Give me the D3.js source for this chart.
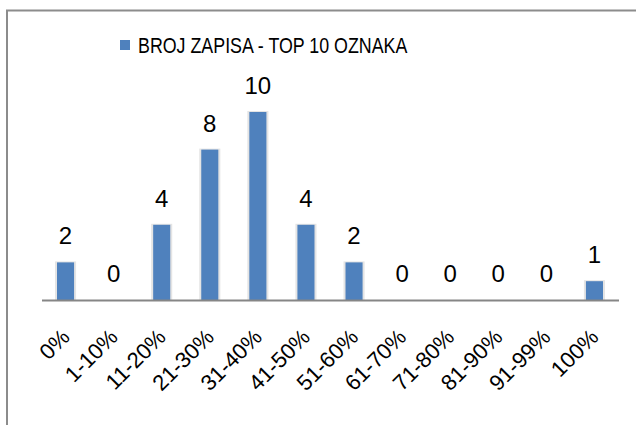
<!DOCTYPE html>
<html>
<head>
<meta charset="utf-8">
<script src="https://cdn.jsdelivr.net/npm/d3@7"></script>
<style>
  body { margin: 0; background: #fff; }
  svg { display: block; font-family: "Liberation Sans", Arial, sans-serif; }
</style>
</head>
<body>
<div id="chart"></div>
<script>
const categories = ['0%', '1-10%', '11-20%', '21-30%', '31-40%', '41-50%', '51-60%',
                    '61-70%', '71-80%', '81-90%', '91-99%', '100%'];
const values = [2, 0, 4, 8, 10, 4, 2, 0, 0, 0, 0, 1];
const seriesName = 'BROJ ZAPISA - TOP 10 OZNAKA';

const w = 636, h = 425;
const barColor = '#4f81bd';

const svg = d3.select('#chart')
  .append('svg')
  .attr('width', w)
  .attr('height', h);

// chart area border: only the top and left edges are in frame
svg.append('path')
  .attr('d', `M7,${h} V10.5 H${w}`)
  .attr('fill', 'none')
  .attr('stroke', '#8c8c8c')
  .attr('stroke-width', 2);

const x = d3.scaleBand()
  .domain(categories)
  .range([41.5, 618.5])
  .paddingInner(0.645)
  .paddingOuter(0.3225);

const y = d3.scaleLinear()
  .domain([0, 10])
  .range([300, 112]);

// bars with a soft halo like the source
const bars = svg.selectAll('g.bar')
  .data(values)
  .enter()
  .append('g')
  .attr('class', 'bar');

bars.append('rect')
  .attr('x', (d, i) => x(categories[i]) - 2)
  .attr('y', d => y(d) - 1)
  .attr('width', x.bandwidth() + 4)
  .attr('height', d => d > 0 ? y(0) - y(d) + 1 : 0)
  .attr('fill', '#e4e4e4');

bars.append('rect')
  .attr('x', (d, i) => x(categories[i]))
  .attr('y', d => y(d))
  .attr('width', x.bandwidth())
  .attr('height', d => y(0) - y(d))
  .attr('fill', barColor);

bars.append('text')
  .attr('x', (d, i) => x(categories[i]) + x.bandwidth() / 2)
  .attr('y', d => y(d) - 18)
  .attr('text-anchor', 'middle')
  .attr('font-size', 24)
  .attr('fill', '#000')
  .text(d => d);

// x axis
const axis = svg.append('g')
  .attr('transform', `translate(0,${y(0)})`)
  .call(d3.axisBottom(x).tickSize(0).tickSizeOuter(0));

axis.select('.domain')
  .attr('stroke', '#868686')
  .attr('stroke-width', 2);

axis.selectAll('text')
  .attr('font-family', '"Liberation Sans", Arial, sans-serif')
  .attr('font-size', 22)
  .attr('fill', '#000')
  .attr('text-anchor', 'end')
  .attr('dy', '0.35em')
  .attr('y', 0)
  .attr('transform', 'translate(0,33) rotate(-45)');

// legend (squeezed a bit, the source font is narrower)
const legend = svg.append('g');
legend.append('rect')
  .attr('x', 120)
  .attr('y', 40)
  .attr('width', 10)
  .attr('height', 10)
  .attr('fill', barColor);
const legendText = legend.append('text')
  .attr('x', 138)
  .attr('y', 53)
  .attr('font-size', 22)
  .attr('fill', '#000')
  .text(seriesName);
const natural = legendText.node().getComputedTextLength();
legendText
  .attr('textLength', natural * 0.81)
  .attr('lengthAdjust', 'spacingAndGlyphs');
</script>
</body>
</html>
